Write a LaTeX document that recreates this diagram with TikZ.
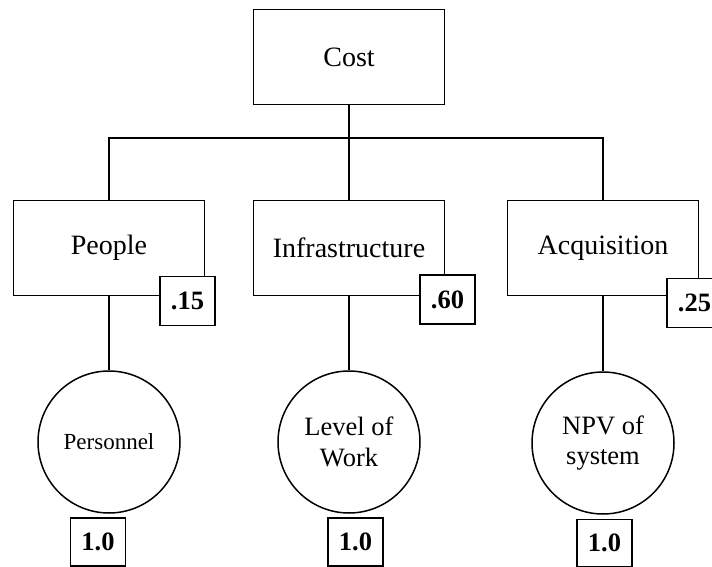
\documentclass[tikz,border=0pt]{standalone}
\usepackage{fontspec}
\setmainfont{Liberation Serif}
\begin{document}
\begin{tikzpicture}[x=1pt,y=-1pt, line width=1.5pt,
  box/.style={draw, fill=white, rectangle, minimum width=191pt, minimum height=95pt, inner sep=0pt, font=\fontsize{28}{32}\selectfont},
  wbox/.style={draw, fill=white, rectangle, minimum width=55pt, minimum height=49pt, inner sep=0pt, font=\fontsize{26.5}{30}\selectfont\bfseries},
  leaf/.style={draw, circle, minimum size=142pt, inner sep=0pt, align=center, font=\fontsize{26.5}{30.5}\selectfont}]
\useasboundingbox (0,0) rectangle (712,567);
\clip (0,0) rectangle (712,567);
% main boxes
\node[box] (cost) at (349,57) {Cost};
\node[box] (people) at (109,248) {People};
\node[box] (infra) at (349,248) {Infrastructure};
\node[box] (acq) at (603,248) {Acquisition};
% leaves
\node[leaf, font=\fontsize{23}{27}\selectfont] (pers) at (109,442) {Personnel};
\node[leaf] (work) at (349,442) {Level of\\Work};
\node[leaf] (npv) at (603,443) {NPV of\\system};
% connectors
\coordinate (bus) at (349,138);
\draw (cost.south) -- (bus);
\draw (people.north) |- (bus) -| (acq.north);
\draw (bus) -- (infra.north);
\draw (people.south) -- (pers.north);
\draw (infra.south) -- (work.north);
\draw (acq.south) -- (npv.north);
% weights
\node[wbox] (w1) at (187.5,301) {.15};
\node[wbox] (w2) at (447.5,299.5) {.60};
\node[wbox] (w3) at (694.5,303) {.25};
\node[wbox, minimum height=48pt] (v1) at (98,542) {1.0};
\node[wbox, minimum height=48pt] (v2) at (355.5,542) {1.0};
\node[wbox, minimum height=47pt] (v3) at (604.5,543) {1.0};
\end{tikzpicture}
\end{document}
